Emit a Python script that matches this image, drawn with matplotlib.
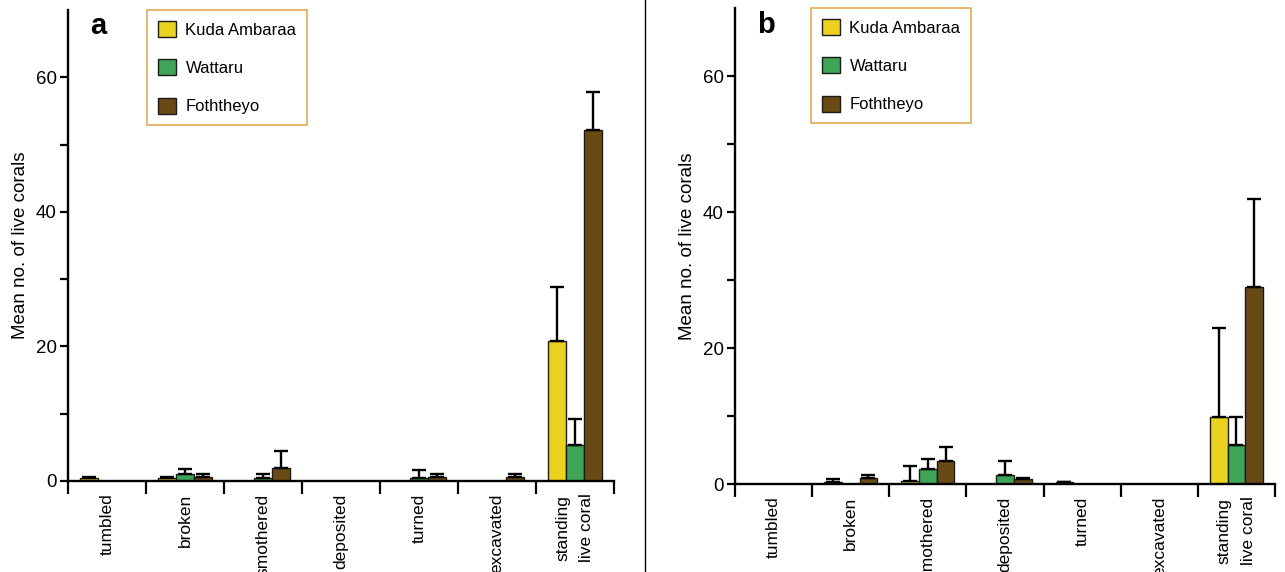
import matplotlib.pyplot as plt
import numpy as np
from matplotlib.patches import Patch

plt.rcParams['font.family'] = ['Liberation Sans', 'DejaVu Sans']

categories = ["tumbled", "broken", "smothered", "deposited", "turned",
              "excavated", "standing\nlive coral"]
sites = ["Kuda Ambaraa", "Wattaru", "Foththeyo"]
colors = ["#EAD21F", "#3EA557", "#6A4A14"]

# panel a: means and upper error
kuda_a = [0.5, 0.5, 0, 0, 0, 0, 20.8]
kuda_a_err = [0.05, 0.1, 0, 0, 0, 0, 8.0]
watt_a = [0, 1.0, 0.5, 0, 0.4, 0, 5.4]
watt_a_err = [0, 0.8, 0.5, 0, 1.3, 0, 3.8]
foth_a = [0, 0.6, 2.0, 0, 0.6, 0.6, 52.2]
foth_a_err = [0, 0.4, 2.5, 0, 0.4, 0.4, 5.6]

# panel b
kuda_b = [0, 0.3, 0.4, 0, 0.3, 0, 9.9]
kuda_b_err = [0, 0.5, 2.2, 0, 0.05, 0, 13.1]
watt_b = [0, 0, 2.2, 1.3, 0, 0, 5.7]
watt_b_err = [0, 0, 1.5, 2.1, 0, 0, 4.2]
foth_b = [0, 0.9, 3.4, 0.8, 0, 0, 29.0]
foth_b_err = [0, 0.4, 2.1, 0.05, 0, 0, 12.9]


def panel(ax, means, errs, letter, legend_x):
    x = np.arange(len(categories))
    w = 0.23
    for k, (m, e) in enumerate(zip(means, errs)):
        xs = x + (k - 1) * w
        ax.bar(xs, m, width=w, color=colors[k], edgecolor="#1a1a1a",
               linewidth=1.0, zorder=2)
        m = np.array(m)
        e = np.array(e)
        sel = e > 0
        ax.errorbar(xs[sel], m[sel], yerr=[np.zeros(sel.sum()), e[sel]],
                    fmt="none", ecolor="black", elinewidth=1.7,
                    capsize=5, capthick=1.7, zorder=3)
    ax.set_xlim(-0.5, len(categories) - 0.5)
    ax.set_ylim(0, 70)
    ax.set_yticks([0, 20, 40, 60])
    ax.set_yticks([10, 30, 50], minor=True)
    ax.set_xticks(x)
    ax.set_xticklabels(categories, rotation=90, va="top", ha="center",
                       fontsize=12.5, linespacing=1.75)
    ax.set_xticks(np.arange(len(categories) + 1) - 0.5, minor=True)
    ax.tick_params(axis="x", which="major", length=0, pad=9)
    ax.tick_params(axis="x", which="minor", length=9, width=1.6)
    ax.tick_params(axis="y", which="both", length=6, width=1.6,
                   labelsize=13.5, pad=2)
    for s in ["top", "right"]:
        ax.spines[s].set_visible(False)
    for s in ["left", "bottom"]:
        ax.spines[s].set_linewidth(1.7)
    ax.set_ylabel("Mean no. of live corals", fontsize=13.5, labelpad=5)
    ax.text(0.04, 0.965, letter, transform=ax.transAxes, fontsize=21,
            fontweight="bold", va="center", ha="left")
    handles = [Patch(facecolor=c, edgecolor="#1a1a1a", linewidth=1.0)
               for c in colors]
    leg = ax.legend(handles, sites, loc="upper left",
                    bbox_to_anchor=(legend_x, 1.0), borderaxespad=0,
                    fontsize=12, fancybox=False, handlelength=1.1,
                    handleheight=1.1, labelspacing=1.3, borderpad=0.65,
                    handletextpad=0.55)
    leg.get_frame().set_edgecolor("#E39E35")
    leg.get_frame().set_linewidth(1.3)


fig = plt.figure(figsize=(12.85, 5.72), dpi=100)
ax1 = fig.add_axes([0.0529, 0.1591, 0.4249, 0.8234])
ax2 = fig.add_axes([0.572, 0.1538, 0.4202, 0.8322])

panel(ax1, [kuda_a, watt_a, foth_a], [kuda_a_err, watt_a_err, foth_a_err],
      "a", 0.145)
panel(ax2, [kuda_b, watt_b, foth_b], [kuda_b_err, watt_b_err, foth_b_err],
      "b", 0.141)

fig.add_artist(plt.Line2D([645 / 1285, 645 / 1285], [0, 1],
                          color="black", linewidth=1.0))

fig.savefig("out.png", dpi=100)
